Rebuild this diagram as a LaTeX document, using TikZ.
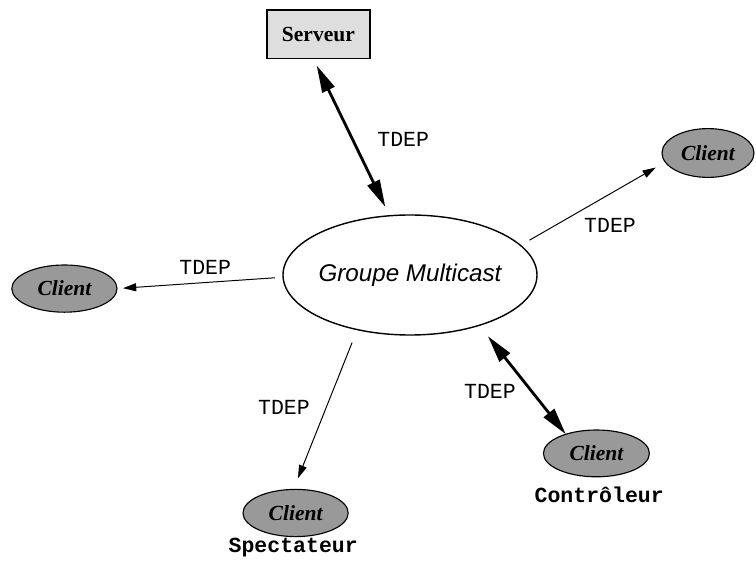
\documentclass[tikz,border=0pt]{standalone}
\usepackage{fontspec}
\setmainfont{Liberation Serif}
\newfontfamily\helv{Liberation Sans}
\newfontfamily\cour{Liberation Mono}
\usetikzlibrary{shapes.geometric,arrows.meta}

\begin{document}
\begin{tikzpicture}[
    client/.style={ellipse, draw, fill=black!40, line width=0.8pt, outer sep=0pt, inner sep=0pt,
        minimum width=2.63cm, minimum height=1.18cm, font=\fontsize{15.3}{18}\selectfont\bfseries\itshape},
    proto/.style={font=\cour\fontsize{15.3}{18}\selectfont},
    role/.style={font=\cour\fontsize{15.3}{18}\selectfont\bfseries},
    flux/.style={-{Triangle[length=0.33cm,width=0.2cm]}, line width=0.7pt},
    duplex/.style={{Triangle[length=0.68cm,width=0.33cm]}-{Triangle[length=0.68cm,width=0.33cm]}, line width=2pt}
]
    \useasboundingbox (0,0) rectangle (18.9,14.025);

    \node[draw, fill=black!13, line width=1pt, outer sep=0pt, minimum width=2.58cm, minimum height=1.21cm,
        font=\fontsize{15.3}{18}\selectfont\bfseries] (Srv) at (7.96,13.17) {Serveur};
    \node[ellipse, draw, line width=1pt, outer sep=0pt, inner xsep=-0.5mm, minimum width=6.35cm, minimum height=3cm,
        font=\helv\fontsize{17.2}{20}\selectfont\itshape] (Grp) at (10.25,7.15) {Groupe Multicast};

    \node[client] (ClG) at (1.61,6.81) {Client};
    \node[client, minimum width=2.3cm, minimum height=1.22cm] (ClD) at (17.70,10.20) {Client};
    \node[client] (ClS) at (7.39,1.20) {Client};
    \node[client, minimum width=2.65cm, minimum height=1.17cm] (ClC) at (14.91,2.69) {Client};

    \node[role] (Spect) at (7.33,0.33) {Spectateur};
    \node[role] (Ctrl) at (14.98,1.65) {Contrôleur};

    % liens bidirectionnels (serveur et controleur)
    \draw[duplex, shorten <=0.195cm, shorten >=0.245cm] (Srv.258.8) -- (Grp.109.4);
    \draw[duplex, shorten <=0.35cm] (Grp.324.7) -- (ClC.148.5);

    % diffusion vers les autres clients
    \draw[flux, shorten <=0.205cm, shorten >=0.15cm] (Grp.181.6) -- (ClG.0);
    \draw[flux, shorten <=0.26cm, shorten >=0.275cm] (Grp.15.9) -- (ClD.192.8);
    \draw[flux, shorten <=0.35cm, shorten >=0.30cm] (Grp.226.7) -- (ClS.95);

    \node[proto] (tSrv) at (10.08,10.53) {TDEP};
    \node[proto] (tClD) at (15.25,8.38) {TDEP};
    \node[proto] (tClG) at (5.13,7.35) {TDEP};
    \node[proto] (tClS) at (7.10,3.83) {TDEP};
    \node[proto] (tClC) at (12.25,4.23) {TDEP};
\end{tikzpicture}
\end{document}
